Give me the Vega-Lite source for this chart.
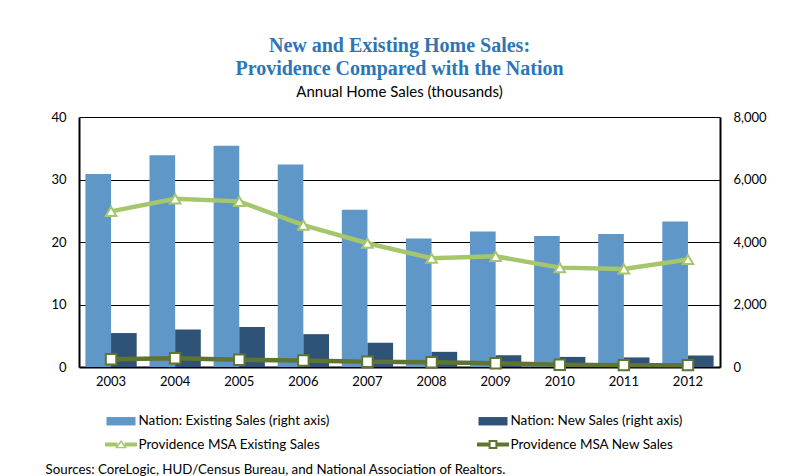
{
  "$schema": "https://vega.github.io/schema/vega-lite/v6.json",
  "width": 641,
  "height": 250,
  "autosize": {"type": "none"},
  "padding": {"left": 79, "top": 117, "right": 66, "bottom": 109},
  "background": "white",
  "title": {
    "text": ["New and Existing Home Sales:", "Providence Compared with the Nation"],
    "subtitle": "Annual Home Sales (thousands)",
    "anchor": "middle",
    "frame": "group",
    "font": "Liberation Serif",
    "fontSize": 20,
    "fontWeight": "bold",
    "color": "#2E75B6",
    "lineHeight": 23.5,
    "subtitleFont": "Lato",
    "subtitleFontSize": 15,
    "subtitleColor": "black",
    "subtitlePadding": 6,
    "offset": 11
  },
  "config": {"view": {"stroke": null}, "font": "Lato"},
  "data": {
    "values": [
      {"year": "2003", "series": "Nation: Existing Sales (right axis)", "value": 6180},
      {"year": "2004", "series": "Nation: Existing Sales (right axis)", "value": 6780},
      {"year": "2005", "series": "Nation: Existing Sales (right axis)", "value": 7080},
      {"year": "2006", "series": "Nation: Existing Sales (right axis)", "value": 6480},
      {"year": "2007", "series": "Nation: Existing Sales (right axis)", "value": 5030},
      {"year": "2008", "series": "Nation: Existing Sales (right axis)", "value": 4110},
      {"year": "2009", "series": "Nation: Existing Sales (right axis)", "value": 4340},
      {"year": "2010", "series": "Nation: Existing Sales (right axis)", "value": 4190},
      {"year": "2011", "series": "Nation: Existing Sales (right axis)", "value": 4260},
      {"year": "2012", "series": "Nation: Existing Sales (right axis)", "value": 4660},
      {"year": "2003", "series": "Nation: New Sales (right axis)", "value": 1086},
      {"year": "2004", "series": "Nation: New Sales (right axis)", "value": 1203},
      {"year": "2005", "series": "Nation: New Sales (right axis)", "value": 1283},
      {"year": "2006", "series": "Nation: New Sales (right axis)", "value": 1051},
      {"year": "2007", "series": "Nation: New Sales (right axis)", "value": 776},
      {"year": "2008", "series": "Nation: New Sales (right axis)", "value": 485},
      {"year": "2009", "series": "Nation: New Sales (right axis)", "value": 375},
      {"year": "2010", "series": "Nation: New Sales (right axis)", "value": 323},
      {"year": "2011", "series": "Nation: New Sales (right axis)", "value": 306},
      {"year": "2012", "series": "Nation: New Sales (right axis)", "value": 368},
      {"year": "2003", "series": "Providence MSA Existing Sales", "value": 24.9},
      {"year": "2004", "series": "Providence MSA Existing Sales", "value": 26.9},
      {"year": "2005", "series": "Providence MSA Existing Sales", "value": 26.5},
      {"year": "2006", "series": "Providence MSA Existing Sales", "value": 22.7},
      {"year": "2007", "series": "Providence MSA Existing Sales", "value": 19.8},
      {"year": "2008", "series": "Providence MSA Existing Sales", "value": 17.4},
      {"year": "2009", "series": "Providence MSA Existing Sales", "value": 17.7},
      {"year": "2010", "series": "Providence MSA Existing Sales", "value": 15.9},
      {"year": "2011", "series": "Providence MSA Existing Sales", "value": 15.7},
      {"year": "2012", "series": "Providence MSA Existing Sales", "value": 17.2},
      {"year": "2003", "series": "Providence MSA New Sales", "value": 1.25},
      {"year": "2004", "series": "Providence MSA New Sales", "value": 1.4},
      {"year": "2005", "series": "Providence MSA New Sales", "value": 1.15},
      {"year": "2006", "series": "Providence MSA New Sales", "value": 1.05},
      {"year": "2007", "series": "Providence MSA New Sales", "value": 0.85},
      {"year": "2008", "series": "Providence MSA New Sales", "value": 0.75},
      {"year": "2009", "series": "Providence MSA New Sales", "value": 0.6},
      {"year": "2010", "series": "Providence MSA New Sales", "value": 0.35},
      {"year": "2011", "series": "Providence MSA New Sales", "value": 0.3},
      {"year": "2012", "series": "Providence MSA New Sales", "value": 0.3}
    ]
  },
  "encoding": {
    "x": {
      "field": "year",
      "type": "ordinal",
      "scale": {"paddingInner": 0.2, "paddingOuter": 0.1},
      "axis": {
        "title": "Sources: CoreLogic, HUD/Census Bureau, and National Association of Realtors.",
        "titleX": -34,
        "titleY": 106,
        "titleAlign": "left",
        "titleBaseline": "alphabetic",
        "titleFont": "Lato",
        "titleFontSize": 13.3,
        "titleFontWeight": "normal",
        "titleColor": "black",
        "labelAngle": 0,
        "labelFont": "Lato",
        "labelFontSize": 13,
        "labelColor": "black",
        "labelPadding": 8,
        "ticks": false,
        "domainColor": "black",
        "domainWidth": 2,
        "grid": false
      }
    },
    "color": {
      "field": "series",
      "type": "nominal",
      "scale": {
        "domain": ["Nation: Existing Sales (right axis)", "Nation: New Sales (right axis)", "Providence MSA Existing Sales", "Providence MSA New Sales"],
        "range": ["#6097C9", "#2F5277", "#A6C66C", "#5F7431"]
      },
      "legend": {
        "orient": "none",
        "legendX": 32,
        "legendY": 294,
        "direction": "horizontal",
        "columns": 2,
        "columnPadding": 147,
        "rowPadding": 6.5,
        "title": null,
        "symbolSize": 400,
        "labelFont": "Lato",
        "labelFontSize": 13.5,
        "labelColor": "black",
        "labelOffset": 7.5,
        "labelLimit": 400,
        "padding": 0,
        "encode": {
          "symbols": {
            "update": {
              "shape": {"signal": "datum.value === 'Providence MSA Existing Sales' ? 'M-1.6,-0.2H-0.36V0.2H-1.6Z M0.36,-0.2H1.6V0.2H0.36Z M0,-0.45L0.6,0.37L-0.6,0.37Z M0,-0.2L-0.34,0.25L0.34,0.25Z' : datum.value === 'Providence MSA New Sales' ? 'M-1.6,-0.2H-0.42V0.2H-1.6Z M0.42,-0.2H1.6V0.2H0.42Z M-0.44,-0.44H0.44V0.44H-0.44Z M-0.24,-0.24V0.24H0.24V-0.24Z' : 'M-1.45,-0.42H1.45V0.42H-1.45Z'"},
              "fill": {"signal": "scale('color', datum.value)"},
              "stroke": {"value": "transparent"},
              "strokeWidth": {"value": 0},
              "size": {"value": 400},
              "opacity": {"value": 1}
            }
          }
        }
      }
    }
  },
  "layer": [
    {
      "transform": [{"filter": "indexof(datum.series, 'Nation') === 0"}],
      "mark": {"type": "bar"},
      "encoding": {
        "xOffset": {"field": "series", "type": "nominal", "scale": {"domain": ["Nation: Existing Sales (right axis)", "Nation: New Sales (right axis)"]}},
        "y": {
          "field": "value",
          "type": "quantitative",
          "scale": {"domain": [0, 8000]},
          "axis": {
            "orient": "right",
            "title": null,
            "values": [0, 2000, 4000, 6000, 8000],
            "format": ",.0f",
            "grid": false,
            "ticks": false,
            "domainColor": "black",
            "domainWidth": 2,
            "labelPadding": 13,
            "labelFont": "Lato",
            "labelFontSize": 13,
            "labelColor": "black"
          }
        }
      }
    },
    {
      "transform": [{"filter": "indexof(datum.series, 'Providence') === 0"}],
      "encoding": {
        "y": {
          "field": "value",
          "type": "quantitative",
          "scale": {"domain": [0, 40]},
          "axis": {
            "title": null,
            "values": [0, 10, 20, 30, 40],
            "grid": true,
            "gridColor": "black",
            "gridWidth": 1,
            "ticks": false,
            "domainColor": "black",
            "domainWidth": 2,
            "labelPadding": 13,
            "labelFont": "Lato",
            "labelFontSize": 13,
            "labelColor": "black"
          }
        }
      },
      "layer": [
        {"mark": {"type": "line", "strokeWidth": 4.5}},
        {
          "mark": {"type": "point", "filled": false, "fill": "white", "strokeWidth": 2, "size": 110, "opacity": 1},
          "encoding": {
            "shape": {"field": "series", "type": "nominal", "scale": {"domain": ["Providence MSA Existing Sales", "Providence MSA New Sales"], "range": ["triangle-up", "square"]}, "legend": null}
          }
        }
      ]
    }
  ],
  "resolve": {"scale": {"y": "independent"}}
}
